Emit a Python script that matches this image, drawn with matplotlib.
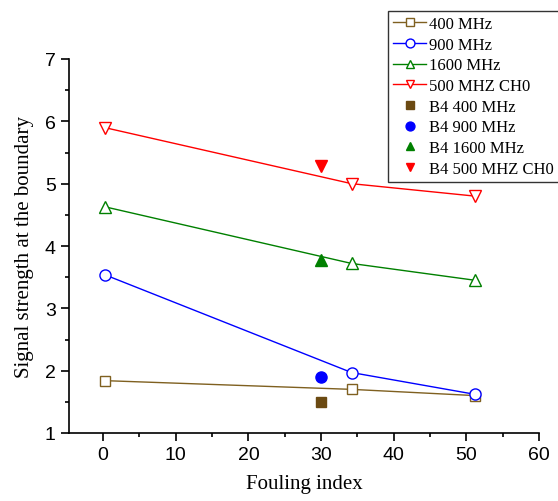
import matplotlib.pyplot as plt
from matplotlib.ticker import MultipleLocator

fouling = [0.2, 34.2, 51.2]
s400 = [1.84, 1.70, 1.60]
s900 = [3.54, 1.97, 1.62]
s1600 = [4.63, 3.72, 3.45]
s500ch0 = [5.90, 5.00, 4.80]

b4_fouling = [30.0]
b4_400 = [1.50]
b4_900 = [1.90]
b4_1600 = [3.77]
b4_500ch0 = [5.28]

brown = '#7f6020'
serif = ['Liberation Serif', 'DejaVu Serif']

fig = plt.figure(figsize=(5.58, 5.02), dpi=100)
ax = fig.add_axes([69 / 558, 68 / 502, (539 - 69) / 558, (434 - 60) / 502])

ax.plot(fouling, s400, '-s', color=brown, mfc='white', ms=7, lw=1, label='400 MHz')
ax.plot(fouling, s900, '-o', color='blue', mfc='white', ms=8, lw=1, label='900 MHz')
ax.plot(fouling, s1600, '-^', color='green', mfc='white', ms=8, lw=1, label='1600 MHz')
ax.plot(fouling, s500ch0, '-v', color='red', mfc='white', ms=8, lw=1, label='500 MHZ CH0')
ax.plot(b4_fouling, b4_400, 's', color='#6b4a12', ms=7, ls='none', label='B4 400 MHz')
ax.plot(b4_fouling, b4_900, 'o', color='blue', ms=8, ls='none', label='B4 900 MHz')
ax.plot(b4_fouling, b4_1600, '^', color='green', ms=8, ls='none', label='B4 1600 MHz')
ax.plot(b4_fouling, b4_500ch0, 'v', color='red', ms=8, ls='none', label='B4 500 MHZ CH0')

ax.set_xlim(-4.7, 60)
ax.set_ylim(1, 7)
ax.xaxis.set_major_locator(MultipleLocator(10))
ax.xaxis.set_minor_locator(MultipleLocator(5))
ax.yaxis.set_major_locator(MultipleLocator(1))
ax.yaxis.set_minor_locator(MultipleLocator(0.5))
ax.spines['top'].set_visible(False)
ax.spines['right'].set_visible(False)
ax.spines['left'].set_linewidth(1.2)
ax.spines['bottom'].set_linewidth(1.2)
ax.tick_params(which='major', direction='out', length=6, width=1.2, labelsize=14)
ax.tick_params(which='minor', direction='out', length=3, width=1.2)
for lab in ax.get_xticklabels() + ax.get_yticklabels():
    lab.set_family(['Liberation Sans', 'DejaVu Sans'])

ax.set_xlabel('Fouling index', family=serif, fontsize=15, labelpad=8)
ax.set_ylabel('Signal strength at the boundary', family=serif, fontsize=15, labelpad=8)

leg = ax.legend(loc='upper left', bbox_to_anchor=(388 / 558, 1 - 12 / 502),
                bbox_transform=fig.transFigure, frameon=True, fancybox=False,
                edgecolor='black', prop={'family': serif, 'size': 12},
                handlelength=2.0, handletextpad=0.15, labelspacing=0.28,
                borderpad=0.3, borderaxespad=0, markerscale=0.8)
leg.get_frame().set_linewidth(1)

fig.savefig('out.png', dpi=100)
